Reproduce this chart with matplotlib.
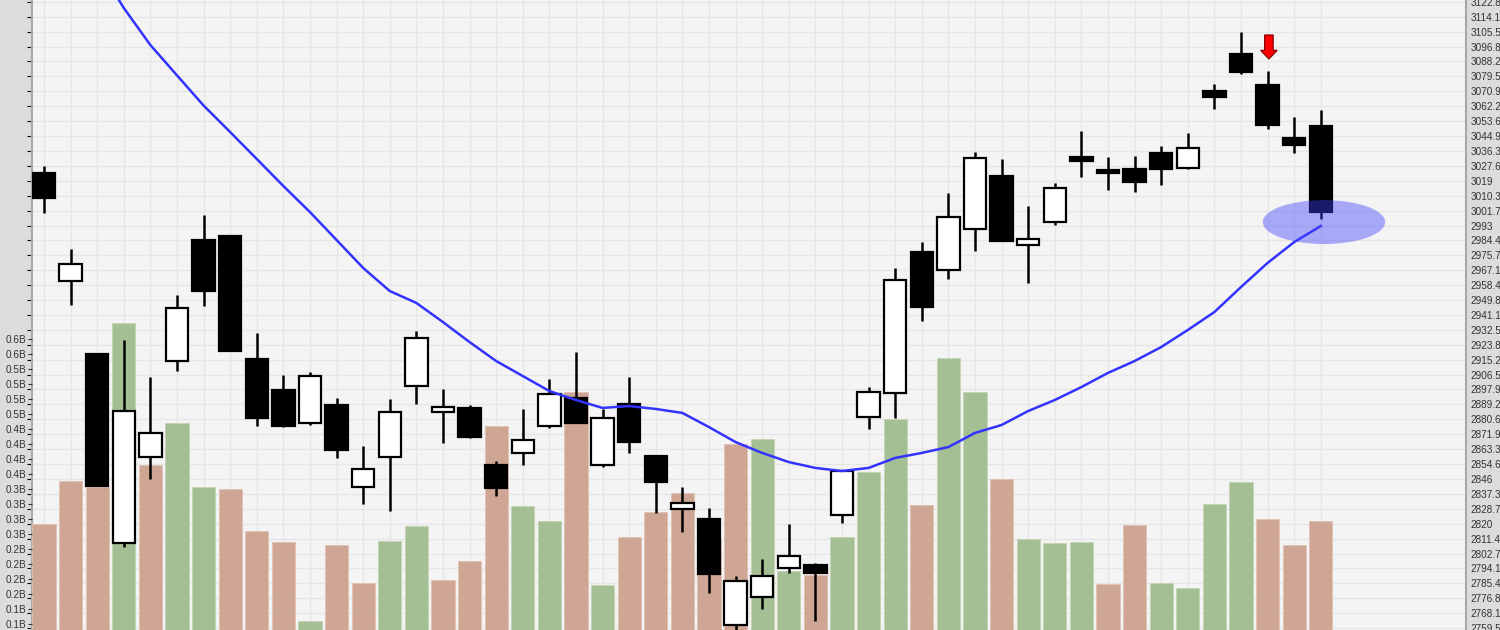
import numpy as np
import matplotlib
matplotlib.use('Agg')
import matplotlib.pyplot as plt
from matplotlib.patches import Ellipse, FancyArrow

plt.rcParams['font.family'] = ['Liberation Sans', 'DejaVu Sans']

# daily OHLC
opens = [3023.6, 2960.8, 2918.3, 2808.7, 2858.9, 2914.4, 2984.4, 2987.1, 2915.4, 2897.6,
         2878.3, 2888.7, 2841.2, 2858.9, 2900.1, 2884.8, 2887.0, 2854.3, 2861.1, 2876.5,
         2892.8, 2854.1, 2889.5, 2859.5, 2828.4, 2822.6, 2761.3, 2777.4, 2794.2, 2795.9,
         2825.1, 2881.7, 2896.0, 2977.8, 2967.2, 2990.8, 3021.7, 2981.5, 2995.2, 3032.9,
         3025.2, 3025.6, 3035.2, 3026.2, 3071.2, 3092.5, 3074.5, 3043.8, 3050.5]
highs = [3027.5, 2979.4, 2918.9, 2926.6, 2904.9, 2952.7, 2999.1, 2987.1, 2930.5, 2906.3,
         2908.2, 2892.8, 2865.3, 2892.2, 2931.8, 2898.2, 2888.7, 2856.6, 2886.6, 2903.8,
         2919.8, 2886.6, 2904.9, 2859.9, 2841.5, 2829.0, 2789.9, 2799.4, 2819.9, 2797.1,
         2851.2, 2899.2, 2968.2, 2983.6, 3011.7, 3035.8, 3031.4, 3004.3, 3017.5, 3047.8,
         3032.6, 3033.5, 3039.1, 3046.8, 3075.1, 3105.1, 3082.6, 3056.1, 3060.0]
lows = [3000.1, 2946.7, 2841.9, 2806.7, 2845.8, 2908.6, 2946.3, 2920.4, 2876.7, 2876.3,
        2877.1, 2858.0, 2831.3, 2827.4, 2889.5, 2866.7, 2869.9, 2836.1, 2854.1, 2875.7,
        2878.3, 2853.1, 2861.2, 2826.1, 2815.4, 2779.7, 2757.0, 2770.4, 2791.3, 2763.8,
        2820.6, 2874.8, 2881.2, 2937.8, 2961.8, 2978.4, 2984.0, 2959.5, 2993.3, 3021.3,
        3013.6, 3012.3, 3016.5, 3025.6, 3060.6, 3080.7, 3048.8, 3034.9, 2996.8]
closes = [3008.8, 2970.7, 2841.9, 2885.6, 2872.5, 2945.2, 2955.0, 2920.4, 2881.5, 2876.7,
          2905.9, 2862.8, 2851.8, 2884.8, 2927.6, 2887.7, 2870.5, 2840.6, 2868.4, 2895.3,
          2878.3, 2881.5, 2867.3, 2844.2, 2832.1, 2790.7, 2787.0, 2789.9, 2801.3, 2791.6,
          2850.6, 2896.6, 2961.4, 2945.9, 2998.1, 3032.0, 2984.0, 2985.0, 3014.9, 3030.4,
          3023.3, 3018.4, 3025.6, 3038.1, 3067.7, 3082.2, 3051.3, 3039.5, 3000.7]
# volume in billions
volumes = [0.276, 0.348, 0.339, 0.611, 0.375, 0.445, 0.338, 0.335, 0.265, 0.246,
           0.115, 0.242, 0.178, 0.248, 0.273, 0.183, 0.215, 0.440, 0.307, 0.282,
           0.497, 0.175, 0.255, 0.296, 0.328, 0.250, 0.410, 0.418, 0.198, 0.192,
           0.255, 0.363, 0.451, 0.308, 0.553, 0.496, 0.351, 0.251, 0.245, 0.246,
           0.176, 0.275, 0.179, 0.170, 0.310, 0.346, 0.285, 0.242, 0.282]
# moving average line
ma = [np.nan, np.nan, 3144.1, 3119.2, 3097.7, 3080.1, 3062.6, 3047.2, 3031.6, 3015.9,
      3000.8, 2984.6, 2968.4, 2955.0, 2948.1, 2937.0, 2925.4, 2914.4, 2905.7, 2897.0,
      2891.8, 2887.2, 2888.3, 2886.6, 2884.3, 2876.1, 2867.4, 2861.1, 2855.8, 2852.4,
      2850.6, 2852.4, 2858.2, 2861.1, 2864.5, 2872.7, 2877.3, 2885.4, 2891.8, 2899.3,
      2907.5, 2914.4, 2922.5, 2932.4, 2942.8, 2957.3, 2971.3, 2983.4, 2992.7]

price_ticks = [2759.5, 2768.1, 2776.8, 2785.4, 2794.1, 2802.7, 2811.4, 2820, 2828.7, 2837.3,
               2846, 2854.6, 2863.3, 2871.9, 2880.6, 2889.2, 2897.9, 2906.5, 2915.2, 2923.8,
               2932.5, 2941.1, 2949.8, 2958.4, 2967.1, 2975.7, 2984.4, 2993, 3001.7, 3010.3,
               3019, 3027.6, 3036.3, 3044.9, 3053.6, 3062.2, 3070.9, 3079.5, 3088.2, 3096.8,
               3105.5, 3114.1, 3122.8]
vol_ticks = [0.11, 0.135, 0.16, 0.185, 0.21, 0.235, 0.26, 0.285, 0.31, 0.335,
             0.36, 0.385, 0.41, 0.435, 0.46, 0.485, 0.51, 0.535, 0.56, 0.585]

signal_idx = 46          # red sell arrow
signal_top = 3103.5
signal_tip = 3089.6
marker_center = (48.12, 2995.0)   # highlighted last close

x = np.arange(len(closes))
o = np.array(opens)
c = np.array(closes)
up = c > o
vol_up = np.r_[False, np.diff(c) > 0]

fig = plt.figure(figsize=(15, 6.3), dpi=100, facecolor='#dcdcdc')
ax = fig.add_axes([32 / 1500, 0, 1434 / 1500, 1])
ax.set_facecolor('#f4f4f4')
xlim = (-0.45, 53.46)
ylim = (2758.4, 3123.8)
ax.set_xlim(*xlim)
ax.set_ylim(*ylim)
ax.set_xticks(x)
ax.set_yticks(price_ticks)
ax.grid(True, color='#e6e6e6', lw=1)
ax.tick_params(left=False, labelleft=False, bottom=False, labelbottom=False)

# volume layer
axv = ax.twinx()
axv.set_ylim(0.1, 1.15)
axv.bar(x, volumes, width=0.87,
        color=np.where(vol_up, '#a5bf95', '#cfa694'),
        edgecolor=np.where(vol_up, '#c2d4b6', '#e0c2b4'), linewidth=0.6)
axv.yaxis.tick_left()
axv.set_yticks(vol_ticks, [f'{v:.1f}B' for v in vol_ticks])
axv.tick_params(axis='y', left=True, right=False, labelleft=True, labelright=False,
                length=3, width=0.8, pad=1, labelsize=7.2, colors='#333333')

# price layer
axp = ax.twinx()
axp.set_xlim(*xlim)
axp.set_ylim(*ylim)
axp.set_yticks(price_ticks, [f'{t:g}' for t in price_ticks])
axp.tick_params(axis='y', length=0, pad=3, labelsize=7.2, colors='#333333')

axp.vlines(x, lows, highs, color='black', lw=1.8, zorder=2)
body_lo = np.minimum(o, c)
body_h = np.abs(c - o)
axp.bar(x, body_h, bottom=body_lo, width=0.84,
        color=np.where(up, 'white', 'black'), edgecolor='black', linewidth=1.6, zorder=3)

axp.plot(x, ma, color='#3333ff', lw=1.8, zorder=4)

axp.add_patch(Ellipse(marker_center, width=4.6, height=25.5,
                      facecolor='#4040ff', alpha=0.42, edgecolor='none', zorder=5))
axp.add_patch(FancyArrow(signal_idx + 0.05, signal_top, 0, signal_tip - signal_top,
                         width=0.32, head_width=0.62, head_length=5.0,
                         length_includes_head=True, facecolor='#ff0000',
                         edgecolor='#880000', lw=0.9, zorder=6))

for a in (ax, axv, axp):
    for s in a.spines.values():
        s.set_visible(False)
ax.spines['left'].set_visible(True)
ax.spines['left'].set_color('#a8a8a8')
ax.spines['left'].set_linewidth(1.5)
axp.spines['right'].set_visible(True)
axp.spines['right'].set_color('#a8a8a8')
axp.spines['right'].set_linewidth(1.5)

fig.savefig('out.png', dpi=100, facecolor=fig.get_facecolor())
